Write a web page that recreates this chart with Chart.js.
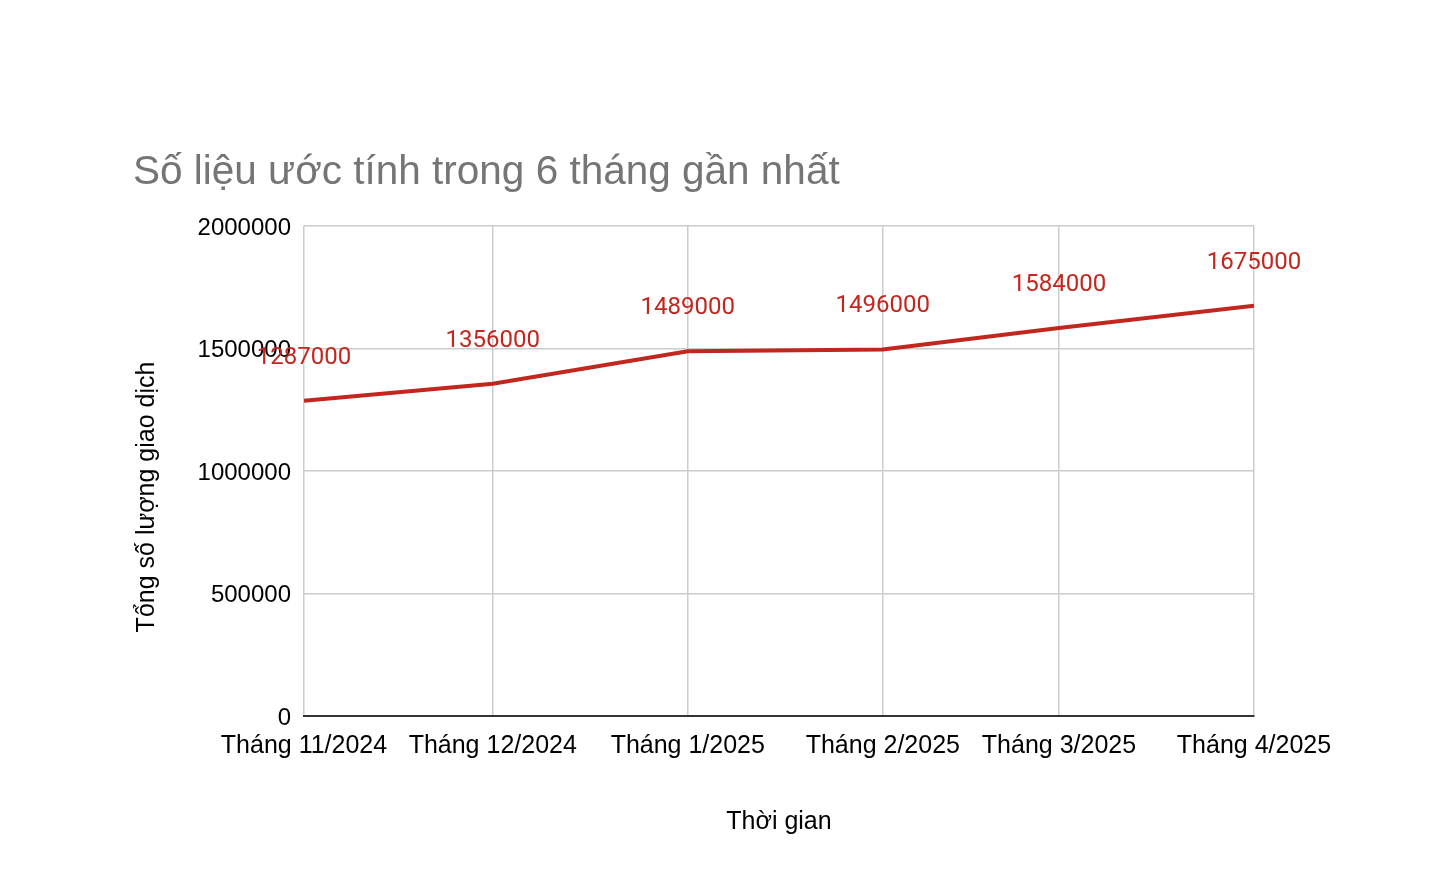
<!DOCTYPE html>
<html>
<head>
<meta charset="utf-8">
<script src="https://cdn.jsdelivr.net/npm/chart.js@4/dist/chart.umd.min.js"></script>
<style>
  html, body { margin: 0; padding: 0; background: #fff; }
</style>
</head>
<body>
<canvas id="trend" width="1452" height="884"></canvas>
<script>
// data
const monthLabels = ['Tháng 11/2024', 'Tháng 12/2024', 'Tháng 1/2025', 'Tháng 2/2025', 'Tháng 3/2025', 'Tháng 4/2025'];
const monthDates = ['2024-11-01', '2024-12-01', '2025-01-01', '2025-02-01', '2025-03-01', '2025-04-01'];
const transactions = [1287000, 1356000, 1489000, 1496000, 1584000, 1675000];
const yTicks = [0, 500000, 1000000, 1500000, 2000000];

const chartTitle = 'Số liệu ước tính trong 6 tháng gần nhất';
const yTitle = 'Tổng số lượng giao dịch';
const xTitle = 'Thời gian';

// the x axis is a time axis, so months sit at their day offset
const day0 = Date.parse(monthDates[0]);
const dayOffsets = monthDates.map(d => Math.round((Date.parse(d) - day0) / 86400000));
const points = dayOffsets.map((x, i) => ({ x: x, y: transactions[i] }));

const lineColor = '#c2261d';
const axisFont = '"Liberation Sans", Arial, sans-serif';

const textPlugin = {
    id: 'texts',
    afterDatasetsDraw(chart) {
        const ctx = chart.ctx;
        const area = chart.chartArea;
        ctx.save();
        // value labels above each point
        ctx.font = '24px Roboto';
        ctx.fillStyle = lineColor;
        ctx.textAlign = 'center';
        ctx.textBaseline = 'middle';
        chart.getDatasetMeta(0).data.forEach((pt, i) => {
            ctx.fillText(String(transactions[i]), pt.x, pt.y - 43);
        });
        // chart title
        ctx.font = '40.5px ' + axisFont;
        ctx.fillStyle = '#757575';
        ctx.textAlign = 'left';
        ctx.textBaseline = 'alphabetic';
        ctx.fillText(chartTitle, 133, 184);
        // x axis title
        ctx.font = '25px ' + axisFont;
        ctx.fillStyle = '#000';
        ctx.textAlign = 'center';
        ctx.textBaseline = 'middle';
        ctx.fillText(xTitle, (area.left + area.right) / 2, 822);
        // y axis title
        ctx.translate(147, 497);
        ctx.rotate(-Math.PI / 2);
        ctx.fillText(yTitle, 0, 0);
        ctx.restore();
    }
};

new Chart(document.getElementById('trend'), {
    type: 'line',
    data: {
        datasets: [{
            label: yTitle,
            data: points,
            borderColor: lineColor,
            borderWidth: 4,
            pointRadius: 0,
            tension: 0
        }]
    },
    options: {
        responsive: false,
        animation: false,
        layout: { padding: { top: 226, right: 198, bottom: 0, left: 0 } },
        plugins: {
            legend: { display: false },
            tooltip: { enabled: false }
        },
        scales: {
            x: {
                type: 'linear',
                min: dayOffsets[0],
                max: dayOffsets[dayOffsets.length - 1],
                afterBuildTicks: s => { s.ticks = dayOffsets.map(v => ({ value: v })); },
                afterFit: s => { s.height = 168; },
                grid: { color: '#cccccc', lineWidth: 1.5, drawTicks: false },
                border: { color: '#333333', width: 2 },
                ticks: {
                    padding: 15,
                    color: '#000',
                    maxRotation: 0,
                    autoSkip: false,
                    font: { family: axisFont, size: 25 },
                    callback: v => monthLabels[dayOffsets.indexOf(v)]
                }
            },
            y: {
                min: 0,
                max: 2000000,
                afterBuildTicks: s => { s.ticks = yTicks.map(v => ({ value: v })); },
                afterFit: s => { s.width = 304; },
                grid: { color: '#cccccc', lineWidth: 1.5, drawTicks: false },
                border: { display: false },
                ticks: {
                    padding: 13,
                    labelOffset: 2,
                    color: '#000',
                    font: { family: axisFont, size: 24 },
                    callback: v => String(v)
                }
            }
        }
    },
    plugins: [textPlugin]
});
</script>
</body>
</html>
